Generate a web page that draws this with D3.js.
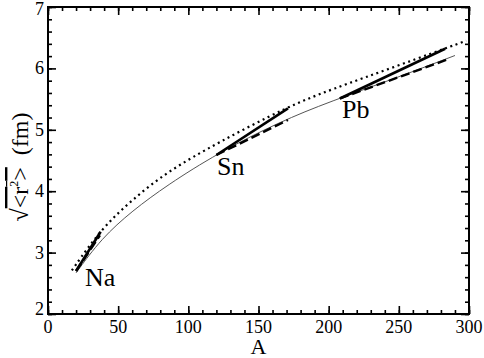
<!DOCTYPE html>
<html><head><meta charset="utf-8">
<script src="https://cdn.jsdelivr.net/npm/d3@7"></script>
<style>body{margin:0;background:#fff}svg{display:block}
svg text{font-family:"Liberation Serif","DejaVu Serif",serif;}</style>
</head><body>
<svg id="c" width="484" height="358"></svg>
<script>
// Data
const xTicks = [0, 50, 100, 150, 200, 250, 300];
const yTicks = [2, 3, 4, 5, 6, 7];
// thin solid reference curve (A, r)
const thinA = [20, 38, 60, 85, 121, 165, 201, 250, 290];
const thinR = [2.67, 3.23, 3.68, 4.10, 4.62, 5.13, 5.46, 5.86, 6.21];
// dotted curve
const dotA = [17, 38, 60, 85, 121, 171, 201, 250, 298];
const dotR = [2.71, 3.39, 3.86, 4.32, 4.79, 5.38, 5.65, 6.05, 6.45];
// thick solid segments per nucleus
const nuclei = ["Na", "Sn", "Pb"];
const solidA = [[20, 37.5], [120, 171], [208, 283]];
const solidR = [[2.70, 3.34], [4.59, 5.35], [5.51, 6.32]];
const dashA = [[20, 37], [120, 171], [208, 284]];
const dashR = [[2.70, 3.28], [4.59, 5.16], [5.51, 6.14]];
const labelA = [26.4, 120.4, 209.5];
const labelR = [2.46, 4.26, 5.19];

const svg = d3.select("#c");
const L = 48, R = 469, T = 7, B = 314;
const x = d3.scaleLinear().domain([0, 300]).range([L, R]);
const y = d3.scaleLinear().domain([2, 7]).range([B, T]);

const g = svg.append("g");
const line = d3.line().x(d => x(d[0])).y(d => y(d[1])).curve(d3.curveBasis);
const zip = (a, b) => a.map((v, i) => [v, b[i]]);

g.append("path").attr("d", line(zip(thinA, thinR))).attr("fill", "none")
  .attr("stroke", "#555").attr("stroke-width", 1);
g.append("path").attr("d", line(zip(dotA, dotR))).attr("fill", "none")
  .attr("stroke", "#000").attr("stroke-width", 2.2).attr("stroke-dasharray", "2 3.6");

const sl = d3.line().x(d => x(d[0])).y(d => y(d[1]));
nuclei.forEach((n, i) => {
  g.append("path").attr("d", sl(zip(dashA[i], dashR[i]))).attr("fill", "none")
    .attr("stroke", "#000").attr("stroke-width", 2.4).attr("stroke-dasharray", "9 4");
  g.append("path").attr("d", sl(zip(solidA[i], solidR[i]))).attr("fill", "none")
    .attr("stroke", "#000").attr("stroke-width", 2.6);
  g.append("text").attr("x", x(labelA[i])).attr("y", y(labelR[i]))
    .attr("font-size", 26).text(n);
});

// axes with inward ticks on all sides
const minorX = d3.range(0, 301, 10), minorY = d3.range(2, 7.001, 0.2);
function ticks(axisGen, pos, maj, minv) {
  const a1 = g.append("g").attr("transform", pos)
    .call(axisGen.tickValues(minv).tickSize(4).tickFormat(""));
  const a2 = g.append("g").attr("transform", pos)
    .call(axisGen.tickValues(maj).tickSize(8).tickFormat(""));
  [a1, a2].forEach(a => { a.select(".domain").remove(); a.selectAll("line").attr("stroke", "#000").attr("stroke-width", 1.6); });
}
ticks(d3.axisTop(x), `translate(0,${B})`, xTicks, minorX);
ticks(d3.axisBottom(x), `translate(0,${T})`, xTicks, minorX);
ticks(d3.axisRight(y), `translate(${L},0)`, yTicks, minorY);
ticks(d3.axisLeft(y), `translate(${R},0)`, yTicks, minorY);

g.append("rect").attr("x", L).attr("y", T).attr("width", R - L).attr("height", B - T)
  .attr("fill", "none").attr("stroke", "#000").attr("stroke-width", 2);

// tick labels
g.selectAll(".xl").data(xTicks).enter().append("text")
  .attr("x", d => x(d)).attr("y", B + 19).attr("text-anchor", "middle")
  .attr("font-size", 18).text(d => d);
g.selectAll(".yl").data(yTicks).enter().append("text")
  .attr("x", L - 4).attr("y", d => y(d) + (d === 2 ? 1 : d === 7 ? 8 : 6)).attr("text-anchor", "end")
  .attr("font-size", 18).text(d => d);

// axis titles
g.append("text").attr("x", (L + R) / 2).attr("y", 354).attr("text-anchor", "middle")
  .attr("font-size", 22).text("A");
const yl = g.append("text").attr("transform", "translate(28,167) rotate(-90)")
  .attr("text-anchor", "middle").attr("font-size", 24);
yl.append("tspan").text("√");
const inner = yl.append("tspan").style("text-decoration", "overline");
inner.append("tspan").text("<r");
inner.append("tspan").attr("font-size", 12).attr("dy", -10).text("2");
inner.append("tspan").attr("dy", 10).text(">");
yl.append("tspan").text("\u00a0 (fm)");
</script>
</body></html>
